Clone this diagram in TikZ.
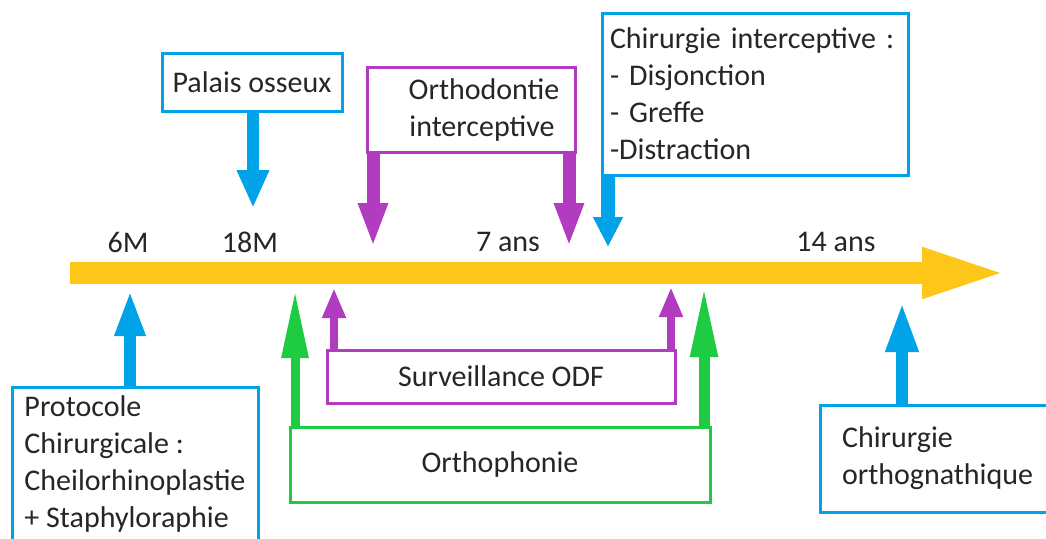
\documentclass[tikz,border=0pt]{standalone}
\usepackage{fontspec}
\setmainfont{Carlito}
\usetikzlibrary{arrows.meta}
\definecolor{cblue}{RGB}{0,162,232}
\definecolor{cpurple}{RGB}{178,60,192}
\definecolor{cgreen}{RGB}{30,204,68}
\definecolor{cyellow}{RGB}{255,198,26}
\definecolor{txt}{RGB}{38,38,38}
\begin{document}
\begin{tikzpicture}[x=1pt,y=-1pt,
  font=\fontsize{30}{37}\selectfont, text=txt,
  box/.style={draw, line width=3pt, fill=white, inner sep=0pt},
  bluebox/.style={box, draw=cblue},
  purplebox/.style={box, draw=cpurple},
  greenbox/.style={box, draw=cgreen},
  lbl/.style={inner sep=0pt},
  blkarrow/.style n args={4}{draw=#1, line width=#2pt, -{Triangle[length=#3pt,width=#4pt]}}
]
\clip (0,0) rectangle (1046,538);

% timeline
\coordinate (ts) at (70,273);
\coordinate (te) at (1012,273);
\draw[blkarrow={cyellow}{22}{90}{44}] (ts) -- (te);

% age labels
\node[lbl] (a6) at (128,242) {6M};
\node[lbl] (a18) at (250,242) {18M};
\node[lbl] (a7) at (508,242) {7 ans};
\node[lbl] (a14) at (836,242) {14 ans};

% tips
\coordinate (tpal) at (253,208);
\coordinate (toi1) at (373,247);
\coordinate (toi2) at (569,247);
\coordinate (tci) at (608,247);
\coordinate (tpro) at (130,290);
\coordinate (tgr1) at (295,290);
\coordinate (tgr2) at (704,285);
\coordinate (tsv1) at (334,288);
\coordinate (tsv2) at (671,287);
\coordinate (tco) at (902,302);

% boxes
\node[bluebox, minimum width=180pt, minimum height=58pt] (pal) at (252,82) {Palais osseux};
\node[purplebox, minimum width=208pt, minimum height=85pt, align=center] (oi) at (471,109.5)
  {\hspace*{26pt}Orthodontie\\\hspace*{22pt}interceptive};
\node[bluebox, minimum width=306pt, minimum height=162pt, text width=290pt, inner xsep=8pt, align=left] (ci) at (755,94)
  {Chirurgie interceptive :\\- Disjonction\\- Greffe\\-Distraction};
\node[bluebox, minimum width=246pt, minimum height=154pt, align=left] (pro) at (135,464)
  {Protocole\\Chirurgicale :\\Cheilorhinoplastie\\+ Staphyloraphie};
\node[purplebox, minimum width=348pt, minimum height=53pt] (sv) at (501,376.5) {Surveillance ODF};
\node[greenbox, minimum width=420pt, minimum height=75pt] (op) at (500,464.5) {Orthophonie};
\node[bluebox, minimum width=227pt, minimum height=107pt, text width=183pt, inner xsep=22pt, align=left] (co) at (933.5,458.5)
  {Chirurgie\\orthognathique};

% arrows
\draw[blkarrow={cblue}{12}{38}{30}] (tpal |- pal.south) -- (tpal);
\draw[blkarrow={cpurple}{13}{44}{27}] (toi1 |- oi.south) -- (toi1);
\draw[blkarrow={cpurple}{13}{44}{27}] (toi2 |- oi.south) -- (toi2);
\draw[blkarrow={cblue}{14}{30}{28}] (tci |- ci.south) -- (tci);
\draw[blkarrow={cblue}{12}{46}{28}] (tpro |- pro.north) -- (tpro);
\draw[blkarrow={cgreen}{9}{68}{25}] (tgr1 |- op.north) -- (tgr1);
\draw[blkarrow={cgreen}{11}{72}{25}] (tgr2 |- op.north) -- (tgr2);
\draw[blkarrow={cpurple}{8}{30}{22}] (tsv1 |- sv.north) -- (tsv1);
\draw[blkarrow={cpurple}{8}{30}{22}] (tsv2 |- sv.north) -- (tsv2);
\draw[blkarrow={cblue}{12}{50}{30}] (tco |- co.north) -- (tco);
\end{tikzpicture}
\end{document}
